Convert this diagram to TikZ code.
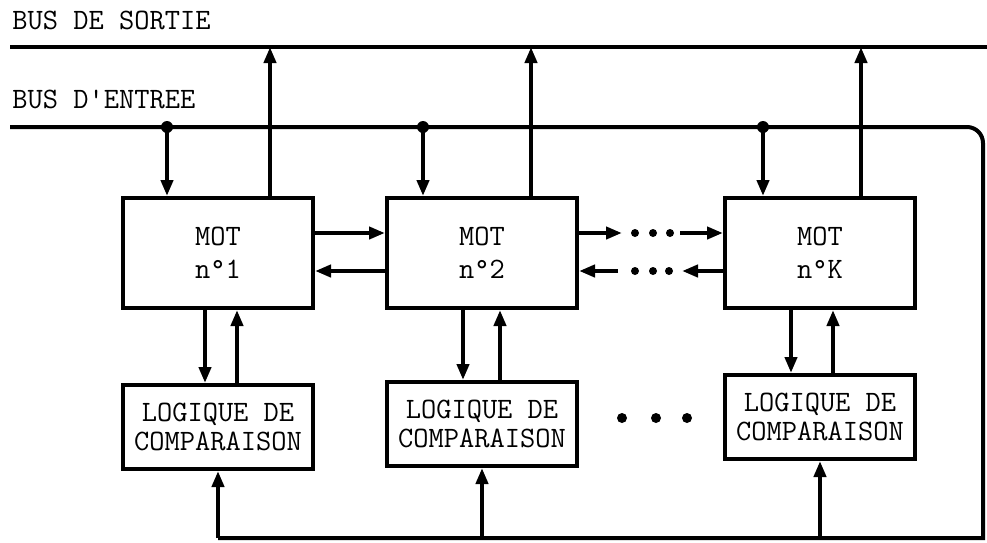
\documentclass[tikz,border=0pt]{standalone}
\usepackage{tikz}
\usetikzlibrary{arrows.meta, positioning}

\begin{document}
\begin{tikzpicture}[
  x=0.5pt, y=-0.5pt,
  mot/.style={rectangle, draw, line width=2pt, minimum width=95pt, minimum height=55pt, align=center, font=\ttfamily\fontsize{14.8}{16.5}\selectfont},
  logic/.style={rectangle, draw, line width=2pt, minimum width=95pt, minimum height=42pt, inner sep=1pt, align=center, font=\ttfamily\fontsize{14.8}{14.6}\selectfont},
  buslabel/.style={anchor=west, inner sep=0pt, font=\ttfamily\fontsize{14.8}{16}\selectfont},
  bus/.style={line width=2pt},
  flow/.style={-{Triangle[length=8pt,width=6pt]}, line width=2pt}
]
\useasboundingbox (0,0) rectangle (987,542);

% Labels
\node[buslabel] (sortie) at (12,20) {BUS DE SORTIE};
\node[buslabel] (entree) at (12,99) {BUS D'ENTREE};

% Buses
\coordinate (out west) at (10,47);
\coordinate (out east) at (987,47);
\coordinate (in west) at (10,127);
\coordinate (in ne) at (983,127);
\coordinate (in se) at (983,538);

% Nodes
\node[mot] (mot1) at (218,253) {MOT\\n°1};
\node[mot] (mot2) at (482,253) {MOT\\n°2};
\node[mot] (motK) at (820,253) {MOT\\n°K};

\node[logic] (cmp1) at (218,427) {LOGIQUE DE\\COMPARAISON};
\node[logic] (cmp2) at (482,424) {LOGIQUE DE\\COMPARAISON};
\node[logic] (cmpK) at (820,417) {LOGIQUE DE\\COMPARAISON};

% Taps
\coordinate (in1) at (167,127);
\coordinate (in2) at (423,127);
\coordinate (inK) at (763,127);
\coordinate (out1) at (270,47);
\coordinate (out2) at (531,47);
\coordinate (outK) at (861,47);

\coordinate (fwd west) at (622,233);
\coordinate (fwd east) at (680,233);
\coordinate (bwd west) at (618,271);
\coordinate (bwd east) at (682,271);

\draw[bus] (out west) -- (out east);
\draw[bus] (in west) [rounded corners=8pt] -- (in ne) [sharp corners] -- (in se) -- (cmp1.south |- in se);

\fill (in1) circle (3pt);
\fill (in2) circle (3pt);
\fill (inK) circle (3pt);

% Flows
\draw[flow] (in1) -- (in1 |- mot1.north);
\draw[flow] (in2) -- (in2 |- mot2.north);
\draw[flow] (inK) -- (inK |- motK.north);

\draw[flow] (out1 |- mot1.north) -- (out1);
\draw[flow] (out2 |- mot2.north) -- (out2);
\draw[flow] (outK |- motK.north) -- (outK);

\draw[flow] ([xshift=-6.5pt]mot1.south) -- ([xshift=-6.5pt]cmp1.north);
\draw[flow] ([xshift=9.5pt]cmp1.north) -- ([xshift=9.5pt]mot1.south);
\draw[flow] ([xshift=-9.5pt]mot2.south) -- ([xshift=-9.5pt]cmp2.north);
\draw[flow] ([xshift=9pt]cmp2.north) -- ([xshift=9pt]mot2.south);
\draw[flow] ([xshift=-14.5pt]motK.south) -- ([xshift=-14.5pt]cmpK.north);
\draw[flow] ([xshift=6.5pt]cmpK.north) -- ([xshift=6.5pt]motK.south);

\draw[flow] (cmp1.south |- in se) -- (cmp1.south);
\draw[flow] (cmp2.south |- in se) -- (cmp2.south);
\draw[flow] (cmpK.south |- in se) -- (cmpK.south);

\draw[flow] ([yshift=10pt]mot1.east) -- ([yshift=10pt]mot2.west);
\draw[flow] ([yshift=-9pt]mot2.west) -- ([yshift=-9pt]mot1.east);

\draw[flow] ([yshift=10pt]mot2.east) -- (fwd west);
\draw[flow] (fwd east) -- ([yshift=10pt]motK.west);
\draw[flow] (bwd west) -- ([yshift=-9pt]mot2.east);
\draw[flow] ([yshift=-9pt]motK.west) -- (bwd east);

% Dots
\fill (635,233) circle (2pt);
\fill (653,233) circle (2pt);
\fill (670,233) circle (2pt);
\fill (635,271) circle (2pt);
\fill (653,271) circle (2pt);
\fill (669,271) circle (2pt);
\fill (622,418) circle (2.5pt);
\fill (656,418) circle (2.5pt);
\fill (687,418) circle (2.5pt);

\end{tikzpicture}
\end{document}
